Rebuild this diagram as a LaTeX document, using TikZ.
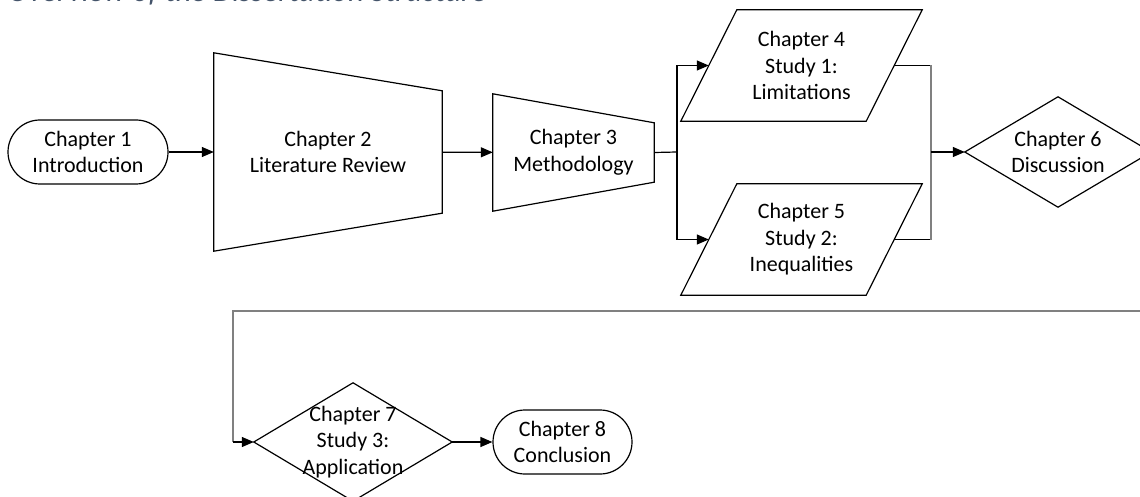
\documentclass[tikz,border=0pt]{standalone}
\usepackage{fontspec}
\setmainfont{Carlito}
\usepackage{tikz}
\usetikzlibrary{arrows.meta}
\usetikzlibrary{calc}
\usetikzlibrary{positioning}
\definecolor{captionblue}{HTML}{44546A}

\begin{document}
\begin{tikzpicture}[
    x=1pt, y=-1pt,
    >={Triangle[length=12pt, width=10pt]},
    chapter/.style={align=center, inner sep=0pt, font=\fontsize{22}{26.5}\selectfont},
    outline/.style={draw=black, line width=1.2pt, line join=miter},
    terminal/.style={chapter, outline, rounded corners=32pt, minimum height=64pt},
    link/.style={draw=black, line width=1.2pt},
    flow/.style={link, ->},
    rail/.style={draw=black!50, line width=1.2pt}
]

\useasboundingbox (0,0) rectangle (1140,497);
\clip (0,0) rectangle (1140,497);

% caption, cut by the top edge
\node[anchor=base west, inner sep=0pt, text=captionblue,
      font=\fontsize{31}{37}\selectfont\itshape] (title) at (8,1.5)
      {Overview of the Dissertation Structure};

% first row
\node[terminal, minimum width=160pt] (ch1) at (88,152) {Chapter 1\\Introduction};

\node[chapter, minimum width=228pt, minimum height=198pt] (ch2) at (328,152)
      {Chapter 2\\Literature Review};
\draw[outline] (ch2.north west) -- ([yshift=-38pt]ch2.north east)
                                -- ([yshift=38pt]ch2.south east)
                                -- (ch2.south west) -- cycle;

\node[chapter, minimum width=161pt, minimum height=117pt] (ch3) at (573.5,152.5)
      {Chapter 3\\Methodology};
\draw[outline] (ch3.north west) -- ([yshift=-29pt]ch3.north east)
                                -- ([yshift=29pt]ch3.south east)
                                -- (ch3.south west) -- cycle;

\node[chapter, minimum width=241pt, minimum height=111pt] (ch4) at (801.5,65.5)
      {Chapter 4\\Study 1:\\Limitations};
\draw[outline] ([xshift=56pt]ch4.north west) -- (ch4.north east)
                                             -- ([xshift=-56pt]ch4.south east)
                                             -- (ch4.south west) -- cycle;

\node[chapter, minimum width=241pt, minimum height=111pt] (ch5) at (801.5,239.5)
      {Chapter 5\\Study 2:\\Inequalities};
\draw[outline] ([xshift=56pt]ch5.north west) -- (ch5.north east)
                                             -- ([xshift=-56pt]ch5.south east)
                                             -- (ch5.south west) -- cycle;

\node[chapter, minimum width=186pt, minimum height=110pt] (ch6) at (1058,152)
      {Chapter 6\\Discussion};
\draw[outline] (ch6.west) -- (ch6.north) -- (ch6.east) -- (ch6.south) -- cycle;

% second row
\node[chapter, minimum width=198pt, minimum height=118pt] (ch7) at (353,442)
      {Chapter 7\\Study 3:\\Application};
\draw[outline] (ch7.west) -- (ch7.north) -- (ch7.east) -- (ch7.south) -- cycle;

\node[terminal, minimum width=139pt] (ch8) at (562.5,442) {Chapter 8\\Conclusion};

% connectors
\draw[flow] (ch1) -- (ch2);
\draw[flow] (ch2) -- (ch3);

\coordinate (split) at (677,152);
\draw[link] (ch3.east) -- (split);
\draw[flow] (split) |- ([xshift=28pt]ch4.west);
\draw[flow] (split) |- ([xshift=28pt]ch5.west);

\coordinate (merge) at (931,152);
\draw[link] ([xshift=-28pt]ch4.east) -- (ch4.east -| merge);
\draw[link] ([xshift=-28pt]ch5.east) -- (ch5.east -| merge);
\draw[rail] (ch4.east -| merge) -- (ch5.east -| merge);
\draw[flow] (merge) -- (ch6.west);

\coordinate (loop_right) at (1160,311);
\coordinate (loop_left) at (233,311);
\draw[rail] (loop_right) -- (loop_left) -- (loop_left |- ch7.west);
\draw[flow] (loop_left |- ch7.west) -- (ch7.west);

\draw[flow] (ch7) -- (ch8);

\end{tikzpicture}
\end{document}
